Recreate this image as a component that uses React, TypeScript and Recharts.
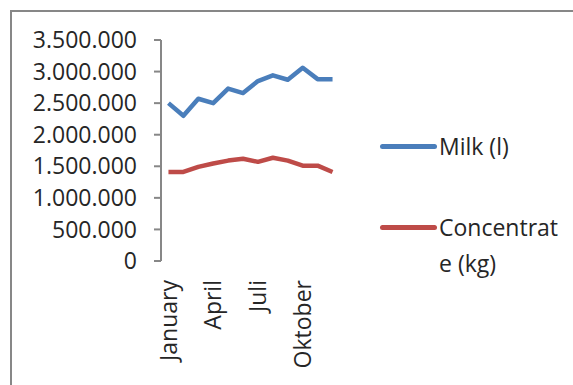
import React from 'react';
import { LineChart, Line, XAxis, YAxis, Legend } from 'recharts';

const MONTHS = ['January', 'Februari', 'Maart', 'April', 'Mei', 'Juni', 'Juli', 'Augustus', 'September', 'Oktober', 'November', 'December'];
const LABELED = ['January', 'April', 'Juli', 'Oktober'];
const MILK = [2500000, 2300000, 2570000, 2500000, 2730000, 2660000, 2850000, 2940000, 2870000, 3060000, 2880000, 2880000];
const CONCENTRATE = [1410000, 1410000, 1490000, 1545000, 1590000, 1620000, 1570000, 1635000, 1590000, 1510000, 1510000, 1410000];
const Y_TICKS = [0, 500000, 1000000, 1500000, 2000000, 2500000, 3000000, 3500000];

const SERIES = [
  { key: 'milk', name: 'Milk (l)', color: '#4a7ebb' },
  { key: 'conc', name: 'Concentrate (kg)', color: '#be4b48' },
];

const FONT = '"Open Sans", sans-serif';
const TEXT = '#262626';
const AXIS = '#878787';

// points sit in the middle of each month slot
const data = MONTHS.map((m, i) => ({ month: m, x: i + 0.5, milk: MILK[i], conc: CONCENTRATE[i] }));
const slotEdges = Array.from({ length: MONTHS.length + 1 }, (_, i) => i);
const labelTicks = LABELED.map(m => MONTHS.indexOf(m) + 0.5);

const fmt = (v: number) => String(v).replace(/\B(?=(\d{3})+(?!\d))/g, '.');

const MonthTick = (props: any) => {
  const { x, y, payload } = props;
  const name = MONTHS[Math.floor(payload.value)];
  return (
    <text x={x} y={y} dy="0.35em" textAnchor="end" transform={`rotate(-90, ${x}, ${y})`}
      fill={TEXT} fontSize={23} fontFamily={FONT}>
      {name}
    </text>
  );
};

const LegendBox = () => (
  <div style={{ fontFamily: FONT, fontSize: 23, color: TEXT }}>
    {SERIES.map((s, i) => (
      <div key={s.key} style={{ position: 'absolute', left: 0, top: i === 0 ? 0 : 81, display: 'flex', alignItems: 'flex-start' }}>
        <div style={{ width: 57, height: 5, borderRadius: 3, background: s.color, marginTop: 16 }} />
        <div style={{ marginLeft: 2, width: 124, lineHeight: '36px', wordBreak: 'break-all' }}>{s.name}</div>
      </div>
    ))}
  </div>
);

export default function App() {
  return (
    <div style={{ position: 'fixed', left: 0, top: 0, width: 573, height: 385, overflow: 'hidden', background: '#fff' }}>
      <div style={{ position: 'absolute', left: 10, top: 10, width: 620, height: 420, border: `2px solid ${AXIS}` }} />
      <LineChart width={573} height={385} data={data} margin={{ top: 40, right: 233, bottom: 0, left: 0 }}>
        <XAxis xAxisId="grid" type="number" dataKey="x" domain={[0, MONTHS.length]} ticks={slotEdges}
          tickFormatter={() => ''} height={0} tickSize={7} stroke={AXIS} strokeWidth={2} allowDataOverflow />
        <XAxis xAxisId="lbl" type="number" dataKey="x" domain={[0, MONTHS.length]} ticks={labelTicks}
          height={124} axisLine={false} tickLine={false} tickSize={0} tickMargin={19} tick={<MonthTick />} interval={0} allowDataOverflow />
        <YAxis width={161} domain={[0, 3500000]} ticks={Y_TICKS} tickFormatter={fmt} tickSize={7} tickMargin={17}
          stroke={AXIS} strokeWidth={2} tick={{ fill: TEXT, fontSize: 23, fontFamily: FONT }} interval={0} />
        <Legend layout="vertical" align="center" verticalAlign="middle" content={<LegendBox />}
          wrapperStyle={{ left: 380, top: 128, width: 190, height: 150 }} />
        {SERIES.map(s => (
          <Line key={s.key} xAxisId="grid" dataKey={s.key} name={s.name} stroke={s.color} strokeWidth={4.5}
            strokeLinejoin="round" dot={false} isAnimationActive={false} />
        ))}
      </LineChart>
    </div>
  );
}
